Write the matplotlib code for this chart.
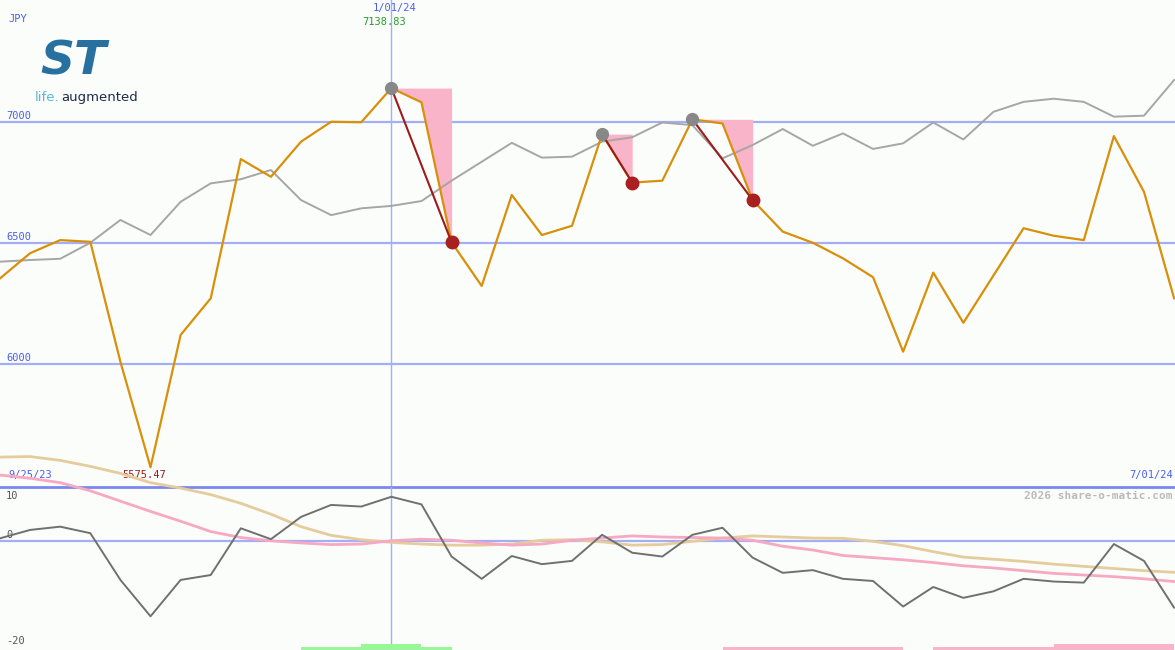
import matplotlib
matplotlib.use("Agg")
import matplotlib.pyplot as plt
import numpy as np

# weekly closes (JPY), 40 weeks ending 7/01/24
price = [6354, 6458, 6512, 6505, 6010, 5575.47, 6121, 6272, 6846, 6773,
         6918, 7000, 6998, 7138.83, 7080, 6503, 6323, 6698, 6533, 6571,
         6949, 6749, 6757, 7010, 6993, 6677, 6547, 6501, 6437, 6359,
         6052, 6378, 6171, 6366, 6561, 6530, 6512, 6941, 6711, 6272]

# moving average (grey)
avg = [6423, 6430, 6435, 6501, 6595, 6533, 6670, 6746, 6763, 6801,
       6677, 6615, 6643, 6653, 6673, 6757, 6835, 6913, 6852, 6856,
       6918, 6936, 6997, 6986, 6849, 6904, 6970, 6901, 6952, 6888,
       6911, 6997, 6927, 7041, 7082, 7095, 7082, 7021, 7025, 7172]

# momentum panel
momentum = [0.55, 2.1, 2.7, 1.5, -7.1, -13.8, -7.1, -6.2, 2.4, 0.4,
            4.5, 6.7, 6.4, 8.2, 6.8, -2.8, -6.9, -2.7, -4.2, -3.6,
            1.2, -2.1, -2.8, 1.2, 2.5, -3.0, -5.8, -5.3, -6.9, -7.3,
            -12.0, -8.4, -10.4, -9.2, -6.9, -7.4, -7.6, -0.5, -3.6, -12.2]
pink_avg = [12.2, 11.6, 10.8, 9.3, 7.4, 5.5, 3.7, 1.8, 0.7, 0.1,
            -0.3, -0.6, -0.5, 0.1, 0.4, 0.2, -0.3, -0.7, -0.5, 0.2,
            0.6, 1.0, 0.8, 0.7, 0.6, 0.2, -0.9, -1.6, -2.6, -3.0,
            -3.4, -3.9, -4.5, -4.9, -5.4, -5.9, -6.2, -6.5, -6.9, -7.4]
beige_avg = [15.5, 15.6, 14.9, 13.8, 12.5, 10.8, 9.8, 8.6, 7.0, 5.0,
             2.7, 1.1, 0.3, -0.2, -0.5, -0.7, -0.7, -0.5, 0.2, 0.3,
             -0.1, -0.7, -0.6, 0.0, 0.6, 1.0, 0.8, 0.6, 0.55, 0.0,
             -0.8, -1.9, -2.9, -3.3, -3.7, -4.2, -4.6, -5.0, -5.4, -5.7]

# signal strip at the bottom, one level per week interval
buy_signal = [0] * 10 + [1, 1, 2, 2, 1] + [0] * 24
sell_signal = [0] * 24 + [1] * 6 + [0] + [1] * 4 + [2] * 4

# drawdowns: (peak week, trough week)
drawdowns = [(13, 15), (20, 21), (23, 25)]

weeks = np.arange(len(price))
bg = "#fbfdfb"
blue_grid = "#a4aef4"
label_blue = "#4a5ef0"
mono = "DejaVu Sans Mono"

fig = plt.figure(figsize=(11.75, 6.5), dpi=100, facecolor=bg)
H = 650.0
ax = fig.add_axes([0, (650 - 487) / H, 1, 487 / H], facecolor=bg)
ax2 = fig.add_axes([0, 0, 1, 163 / H], facecolor="none")

for a in (ax, ax2):
    a.set_xlim(0, 39.03)
    a.set_xticks([])
    a.set_yticks([])
    for s in a.spines.values():
        s.set_visible(False)

ax.set_ylim(5494, 7502)
ax2.set_ylim(-20, 10)

# price panel
for lvl in [7000, 6500, 6000]:
    ax.axhline(lvl, color=blue_grid, lw=1.6, zorder=1)
    ax.text(0.2, lvl + 5, str(lvl), color=label_blue, fontsize=7.5,
            family=mono, va="bottom", ha="left")
ax.axvline(13, color=blue_grid, lw=1, zorder=1)

for p, t in drawdowns:
    xs = weeks[p:t + 1]
    ax.fill_between(xs, price[p], price[p:t + 1], color="#f9b4ca", lw=0, zorder=2)

ax.plot(weeks, avg, color="#a6a6a6", lw=1.4, zorder=3)
ax.plot(weeks, price, color="#d8900a", lw=1.6, zorder=4)

for p, t in drawdowns:
    ax.plot([p, t], [price[p], price[t]], color="#9c1c1c", lw=1.5, zorder=5)
    ax.plot(p, price[p], "o", color="#888888", ms=8.5, zorder=6)
    ax.plot(t, price[t], "o", color="#a82020", ms=9, zorder=6)

ax.text(0.27, 7410, "JPY", color=label_blue, fontsize=7.5, family=mono)
ax.text(13.1, 7455, "1/01/24", color=label_blue, fontsize=7.5,
        family=mono, ha="center")
ax.text(12.75, 7400, "7138.83", color="#2a9a2a", fontsize=7.5,
        family=mono, ha="center")
ax.text(4.05, 5530, "5575.47", color="#9c1c1c", fontsize=7.5, family=mono)
ax.text(0.27, 5530, "9/25/23", color=label_blue, fontsize=7.5, family=mono)
ax.text(38.95, 5530, "7/01/24", color=label_blue, fontsize=7.5,
        family=mono, ha="right")

# logo
ax.text(1.35, 7196, "ST", color="#2770a0", fontsize=34, fontweight="bold",
        fontstyle="italic", family="DejaVu Sans", va="baseline")
ax.text(1.15, 7086, "life.", color="#58b4e0", fontsize=9.5, family="DejaVu Sans")
ax.text(2.02, 7086, "augmented", color="#1e2a48", fontsize=9.5, family="DejaVu Sans")

# momentum panel
ax2.axhline(10, color="#7a88ec", lw=2, zorder=1, clip_on=False)
ax2.axhline(0, color=blue_grid, lw=1.6, zorder=1)
ax2.axvline(13, color=blue_grid, lw=1, zorder=1)
ax2.plot(weeks, beige_avg, color="#e4cc9c", lw=2, zorder=2, clip_on=False)
ax2.plot(weeks, pink_avg, color="#f7a8c2", lw=2, zorder=3, clip_on=False)
ax2.plot(weeks, momentum, color="#707070", lw=1.4, zorder=4)

lvl_h = 0.55
ax2.bar(weeks[:-1], [b * lvl_h for b in buy_signal], width=1, align="edge",
        bottom=-20, color="#98f898", lw=0, zorder=5)
ax2.bar(weeks[:-1], [s * lvl_h for s in sell_signal], width=1, align="edge",
        bottom=-20, color="#f9b4ca", lw=0, zorder=5)

ax2.text(0.2, 8.3, "10", color="#555555", fontsize=7.5, family=mono, va="center")
ax2.text(0.2, 1.1, "0", color="#555555", fontsize=7.5, family=mono, va="center")
ax2.text(0.2, -18.3, "-20", color="#555555", fontsize=7.5, family=mono, va="center")
ax2.text(38.95, 8.3, "2026 share-o-matic.com", color="#bbbbbb", fontsize=8,
         fontweight="bold", family=mono, ha="right", va="center")

fig.savefig("out.png", dpi=100, facecolor=bg)
